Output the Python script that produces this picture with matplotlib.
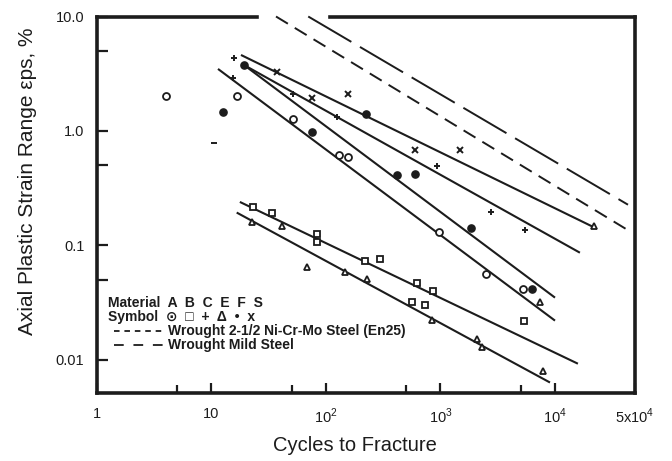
import matplotlib
matplotlib.use('Agg')
import matplotlib.pyplot as plt
from matplotlib.lines import Line2D

plt.rcParams['font.family'] = ['Liberation Sans', 'DejaVu Sans']
plt.rcParams['mathtext.fontset'] = 'custom'
plt.rcParams['mathtext.rm'] = 'Liberation Sans'
plt.rcParams['lines.scale_dashes'] = False

INK = '#1c1c1c'

# test points: cycles to fracture vs. plastic strain range (%)
a_cycles = [4, 16.6, 52, 131, 157, 970, 2500, 5300]
a_strain = [2.0, 2.0, 1.26, 0.61, 0.59, 0.131, 0.056, 0.041]

b_cycles = [23, 33.5, 83, 83, 219, 297, 620, 865, 560, 730, 5400]
b_strain = [0.216, 0.19, 0.125, 0.106, 0.073, 0.076, 0.047, 0.040, 0.032, 0.030, 0.0216]

c_cycles = [15.8, 15.5, 52, 124, 930, 2740, 5500]
c_strain = [4.3, 2.9, 2.1, 1.32, 0.49, 0.195, 0.137]

e_cycles = [22.4, 41, 68, 147, 226, 850, 2070, 2290, 7400, 7900, 22000]
e_strain = [0.16, 0.146, 0.065, 0.058, 0.051, 0.0224, 0.0152, 0.0129, 0.032, 0.0079, 0.146]

f_cycles = [12.5, 19.2, 75, 223, 414, 600, 1850, 6250]
f_strain = [1.47, 3.77, 0.97, 1.41, 0.41, 0.42, 0.141, 0.041]

s_cycles = [37, 75, 157, 600, 1480]
s_strain = [3.3, 1.93, 2.1, 0.68, 0.68]

# unlabelled point printed as a short dash
odd_cycles = [10.5]
odd_strain = [0.78]

# fitted lines, end points (cycles, strain)
fit_s = ([18.1, 22340], [4.61, 0.142])
fit_c = ([19.2, 16500], [3.77, 0.086])
fit_f = ([19.2, 10000], [3.77, 0.0348])
fit_a = ([11.4, 10000], [3.48, 0.0219])
fit_b = ([17.7, 15850], [0.239, 0.0092])
fit_e = ([16.6, 9040], [0.193, 0.0063])

# reference steels
en25 = ([36.6, 45200], [10.0, 0.132])
mild = ([70, 43400], [10.0, 0.226])

x_ticks = [1, 10, 100, 1000, 10000, 50000]
x_labels = ['1', '10', r'$10^2$', r'$10^3$', r'$10^4$', r'$5\mathregular{x}10^4$']
y_ticks = [0.01, 0.1, 1, 10]
y_labels = ['0.01', '0.1', '1.0', '10.0']

fig = plt.figure(figsize=(6.72, 4.61), dpi=100)
ax = fig.add_axes([0.1443, 0.1475, 0.8007, 0.8167])
ax.set_xscale('log')
ax.set_yscale('log')
ax.set_xlim(1, 50000)
ax.set_ylim(0.0051, 10)

for xs, ys in [fit_s, fit_c, fit_f, fit_a, fit_b, fit_e]:
    ax.plot(xs, ys, color=INK, lw=1.5, solid_capstyle='butt')

ax.plot(*en25, color=INK, lw=1.4, dashes=(10, 5.8), clip_on=False)
ax.plot(*mild, color=INK, lw=1.4, dashes=(36, 7.2), clip_on=False)

ax.plot(a_cycles, a_strain, 'o', ms=5, mfc='white', mec=INK, mew=1.3, ls='none')
ax.plot(b_cycles, b_strain, 's', ms=4.6, mfc='white', mec=INK, mew=1.3, ls='none')
ax.plot(c_cycles, c_strain, '+', ms=4.5, mec=INK, mew=1.4, ls='none')
ax.plot(e_cycles, e_strain, '^', ms=4.6, mfc='white', mec=INK, mew=1.3, ls='none')
ax.plot(f_cycles, f_strain, 'o', ms=5.2, color=INK, ls='none')
ax.plot(s_cycles, s_strain, 'x', ms=4, mec=INK, mew=1.4, ls='none')
ax.plot(odd_cycles, odd_strain, '_', ms=4, mec=INK, mew=1.4, ls='none')

# frame: heavy spines, top edge broken where the steel lines leave the plot
for side in ['left', 'right', 'bottom']:
    ax.spines[side].set_linewidth(2.6)
    ax.spines[side].set_color(INK)
ax.spines['top'].set_visible(False)
for x0, x1 in [(0, 0.297), (0.433, 1.0)]:
    ax.add_line(Line2D([x0, x1], [1, 1], transform=ax.transAxes, color=INK,
                       lw=2.6, clip_on=False, solid_capstyle='projecting'))

ax.set_xticks(x_ticks)
ax.set_xticklabels(x_labels)
ax.set_xticks([5, 50, 500, 5000], minor=True)
ax.set_xticklabels([], minor=True)
ax.set_yticks(y_ticks)
ax.set_yticklabels(y_labels)
ax.set_yticks([0.05, 0.5, 5], minor=True)
ax.set_yticklabels([], minor=True)

ax.tick_params(axis='both', which='both', direction='in', colors=INK,
               width=1.6, labelsize=10.5)
ax.tick_params(axis='y', which='both', length=8, pad=9)
ax.tick_params(axis='x', which='major', length=7, pad=10)
ax.tick_params(axis='x', which='minor', length=6)

ax.set_xlabel('Cycles to Fracture', fontsize=14.5, color=INK)
ax.xaxis.set_label_coords(0.48, -0.115)
ax.set_ylabel('Axial Plastic Strain Range εps, %', fontsize=15, color=INK)
ax.yaxis.set_label_coords(-0.112, 0.562)

# material key
key_font = dict(fontsize=10, fontweight='bold', color=INK, va='center',
                transform=ax.transAxes)
ax.text(0.02, 0.239, 'Material  A  B  C  E  F  S', **key_font)
ax.text(0.02, 0.202, 'Symbol  ⊙  □  +  Δ  •  x', **key_font)
ax.add_line(Line2D([0.032, 0.123], [0.165, 0.165], transform=ax.transAxes,
                   color=INK, lw=1.3, dashes=(4, 3.5)))
ax.add_line(Line2D([0.032, 0.123], [0.1275, 0.1275], transform=ax.transAxes,
                   color=INK, lw=1.3, dashes=(7, 7)))
ax.text(0.132, 0.165, 'Wrought 2-1/2 Ni-Cr-Mo Steel (En25)', **key_font)
ax.text(0.132, 0.1275, 'Wrought Mild Steel', **key_font)

fig.savefig('out.png', dpi=100)
